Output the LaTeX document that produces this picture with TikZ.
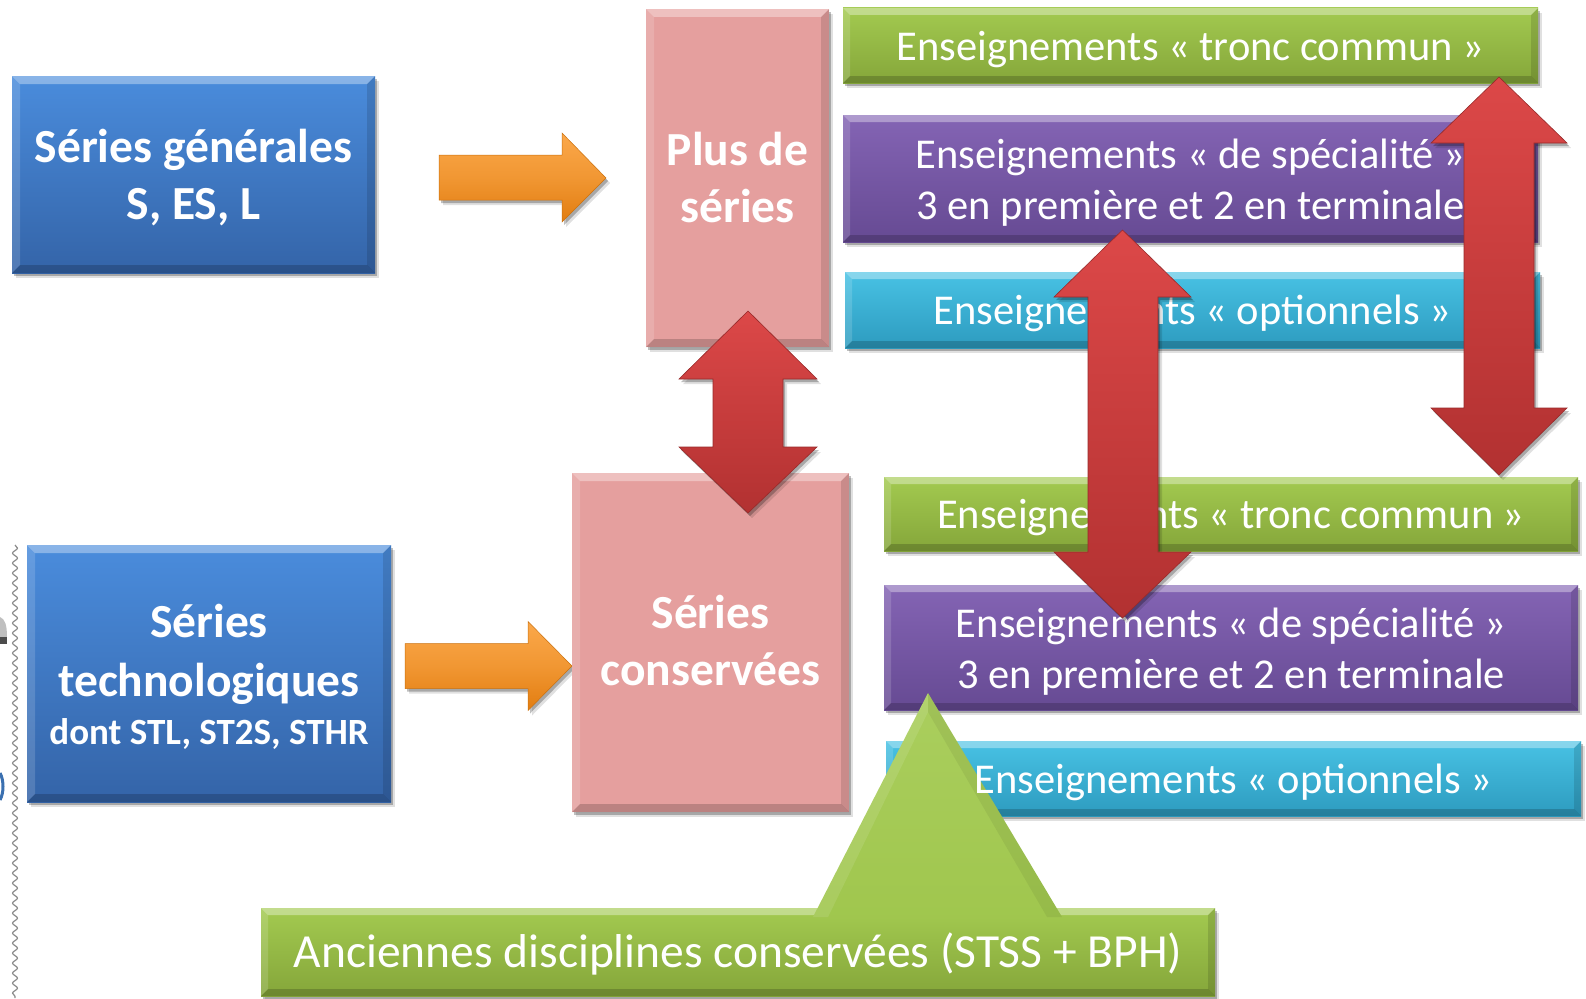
\documentclass[tikz,border=0pt]{standalone}
\usepackage{fontspec}
\setmainfont{Carlito}
\usetikzlibrary{shadows,decorations.pathmorphing}
\definecolor{blueT}{HTML}{4A8CDC}
\definecolor{blueB}{HTML}{3464A8}
\definecolor{pinkF}{HTML}{E59F9E}
\definecolor{greenT}{HTML}{A3CA50}
\definecolor{greenB}{HTML}{85A63A}
\definecolor{purpT}{HTML}{8464B4}
\definecolor{purpB}{HTML}{664A93}
\definecolor{cyanT}{HTML}{48C2E4}
\definecolor{cyanB}{HTML}{2D9BBF}
\definecolor{redT}{HTML}{DC4848}
\definecolor{redB}{HTML}{B23131}
\definecolor{orT}{HTML}{FBA84A}
\definecolor{orB}{HTML}{E27D10}
\newcommand\mybevel[2]{%
  \fill[white,opacity=.35] (#1.north west) -- (#1.north east) -- ([shift={(-#2,#2)}]#1.north east) -- ([shift={(#2,#2)}]#1.north west) -- cycle;
  \fill[white,opacity=.15] (#1.north west) -- ([shift={(#2,#2)}]#1.north west) -- ([shift={(#2,-#2)}]#1.south west) -- (#1.south west) -- cycle;
  \fill[black,opacity=.18] (#1.south west) -- ([shift={(#2,-#2)}]#1.south west) -- ([shift={(-#2,-#2)}]#1.south east) -- (#1.south east) -- cycle;
  \fill[black,opacity=.12] (#1.north east) -- (#1.south east) -- ([shift={(-#2,-#2)}]#1.south east) -- ([shift={(-#2,#2)}]#1.north east) -- cycle;
}
\begin{document}
\begin{tikzpicture}[x=1pt,y=-1pt,
  softshadow/.style={drop shadow={shadow xshift=4pt,shadow yshift=-5pt,opacity=.12,fill=black},
                     drop shadow={shadow xshift=2pt,shadow yshift=-3pt,opacity=.25,fill=black}},
  boxshape/.style={inner sep=0pt,outer sep=0pt,draw=none,softshadow},
  bluebox/.style={boxshape,top color=blueT,bottom color=blueB},
  pinkbox/.style={boxshape,fill=pinkF},
  greenbox/.style={boxshape,top color=greenT,bottom color=greenB},
  purplebox/.style={boxshape,top color=purpT,bottom color=purpB},
  cyanbox/.style={boxshape,top color=cyanT,bottom color=cyanB},
  txtR/.style={text=white,font=\fontsize{42.5}{51}\selectfont,align=flush center,inner sep=0pt,anchor=base},
  txtB/.style={text=white,font=\fontsize{47.5}{57}\selectfont\bfseries,align=flush center,inner sep=0pt,anchor=base},
  redarrow/.style={softshadow,top color=redT,bottom color=redB,draw=redB!85!black,line width=.6pt},
  orarrow/.style={softshadow,top color=orT,bottom color=orB,middle color=orT!60!orB,draw=orB!90!black,line width=.5pt}
]
\useasboundingbox (0,0) rectangle (1586,998);
\fill[white] (0,0) rectangle (1586,998);

% left edge remnants
\draw[black!45,line width=1.2pt,decorate,decoration={snake,segment length=10pt,amplitude=2.5pt}] (15,545) -- (15,998);
\fill[black!25] (0,617) .. controls (5,619) and (7,625) .. (7,637) -- (0,637) -- cycle;
\fill[black!70] (0,637) rectangle (7,644);
\draw[blueT!80!black,line width=3pt] (0,773) .. controls (4,780) and (4,793) .. (0,800);

% orange arrows
\path[orarrow] (439,155) -- (562,155) -- (562,133) -- (606,178) -- (562,222) -- (562,200) -- (439,200) -- cycle;
\path[orarrow] (405,643.5) -- (528,643.5) -- (528,621.5) -- (572,666) -- (528,710.5) -- (528,688.5) -- (405,688.5) -- cycle;

% boxes
\node[bluebox,minimum width=363,minimum height=197] (sg) at (193.5,174.5) {};
\mybevel{sg}{8}
\node[bluebox,minimum width=364,minimum height=257] (st) at (209,673.5) {};
\mybevel{st}{8}
\node[pinkbox,minimum width=183,minimum height=338] (ps) at (737.5,178) {};
\mybevel{ps}{8}
\node[pinkbox,minimum width=277,minimum height=339] (sc) at (710.5,642.5) {};
\mybevel{sc}{8}
\node[greenbox,minimum width=695,minimum height=75] (g1) at (1190.5,45.5) {};
\mybevel{g1}{7}
\node[purplebox,minimum width=695,minimum height=127] (p1) at (1190.5,178.5) {};
\mybevel{p1}{7}
\node[cyanbox,minimum width=695,minimum height=76] (c1) at (1192.5,310) {};
\mybevel{c1}{7}
\node[greenbox,minimum width=694,minimum height=74] (g2) at (1231,514) {};
\mybevel{g2}{7}
\node[purplebox,minimum width=694,minimum height=125] (p2) at (1231,647.5) {};
\mybevel{p2}{7}
\node[cyanbox,minimum width=695,minimum height=75] (c2) at (1233.5,778.5) {};
\mybevel{c2}{7}
\node[greenbox,minimum width=954,minimum height=88] (ad) at (738,952) {};
\mybevel{ad}{7}

% triangle
\path[top color=greenT!92!white,bottom color=greenT!90!greenB] (928,693) -- (1062,917) -- (813,917) -- cycle;
\fill[white,opacity=.10] (928,693) -- (813,917) -- (828,917) -- (928,712) -- cycle;
\fill[black,opacity=.06] (928,693) -- (1062,917) -- (1047,917) -- (928,712) -- cycle;

% texts
\node[txtB,text width=363] (sgT) at (193.5,162) {Séries générales\\S, ES, L};
\node[txtB,text width=364] (stT) at (209,637) {Séries\\[2pt]technologiques\\[-9pt]{\fontsize{37}{44}\selectfont dont STL, ST2S, STHR}};
\node[txtB,text width=183] (psT) at (737.5,165) {Plus de\\séries};
\node[txtB,text width=277] (scT) at (710.5,628) {Séries\\conservées};
\node[txtR,text width=695] (g1T) at (1190.5,60) {Enseignements « tronc commun »};
\node[txtR,text width=695] (p1T) at (1190.5,168) {Enseignements « de spécialité »\\3 en première et 2 en terminale};
\node[txtR,text width=695] (c1T) at (1192.5,324) {Enseignements « optionnels »};
\node[txtR,text width=694] (g2T) at (1231,528) {Enseignements « tronc commun »};
\node[txtR,text width=694] (p2T) at (1231,637) {Enseignements « de spécialité »\\3 en première et 2 en terminale};
\node[txtR,text width=695] (c2T) at (1233.5,793) {Enseignements « optionnels »};
\node[txtR,text width=954,font=\fontsize{47.5}{57}\selectfont] (adT) at (738,967) {Anciennes disciplines conservées (STSS + BPH)};

% red double arrows
\path[redarrow] (748,311) -- (817,379) -- (783,379) -- (783,447) -- (817,447) -- (748,513) -- (679,447) -- (713,447) -- (713,379) -- (679,379) -- cycle;
\path[redarrow] (1122.5,230) -- (1191,297) -- (1158,297) -- (1158,552) -- (1191,552) -- (1122.5,618) -- (1054,552) -- (1088,552) -- (1088,297) -- (1054,297) -- cycle;
\path[redarrow] (1499,77) -- (1567,143) -- (1534,143) -- (1534,408) -- (1567,408) -- (1499,475) -- (1431,408) -- (1464,408) -- (1464,143) -- (1431,143) -- cycle;
\end{tikzpicture}
\end{document}
